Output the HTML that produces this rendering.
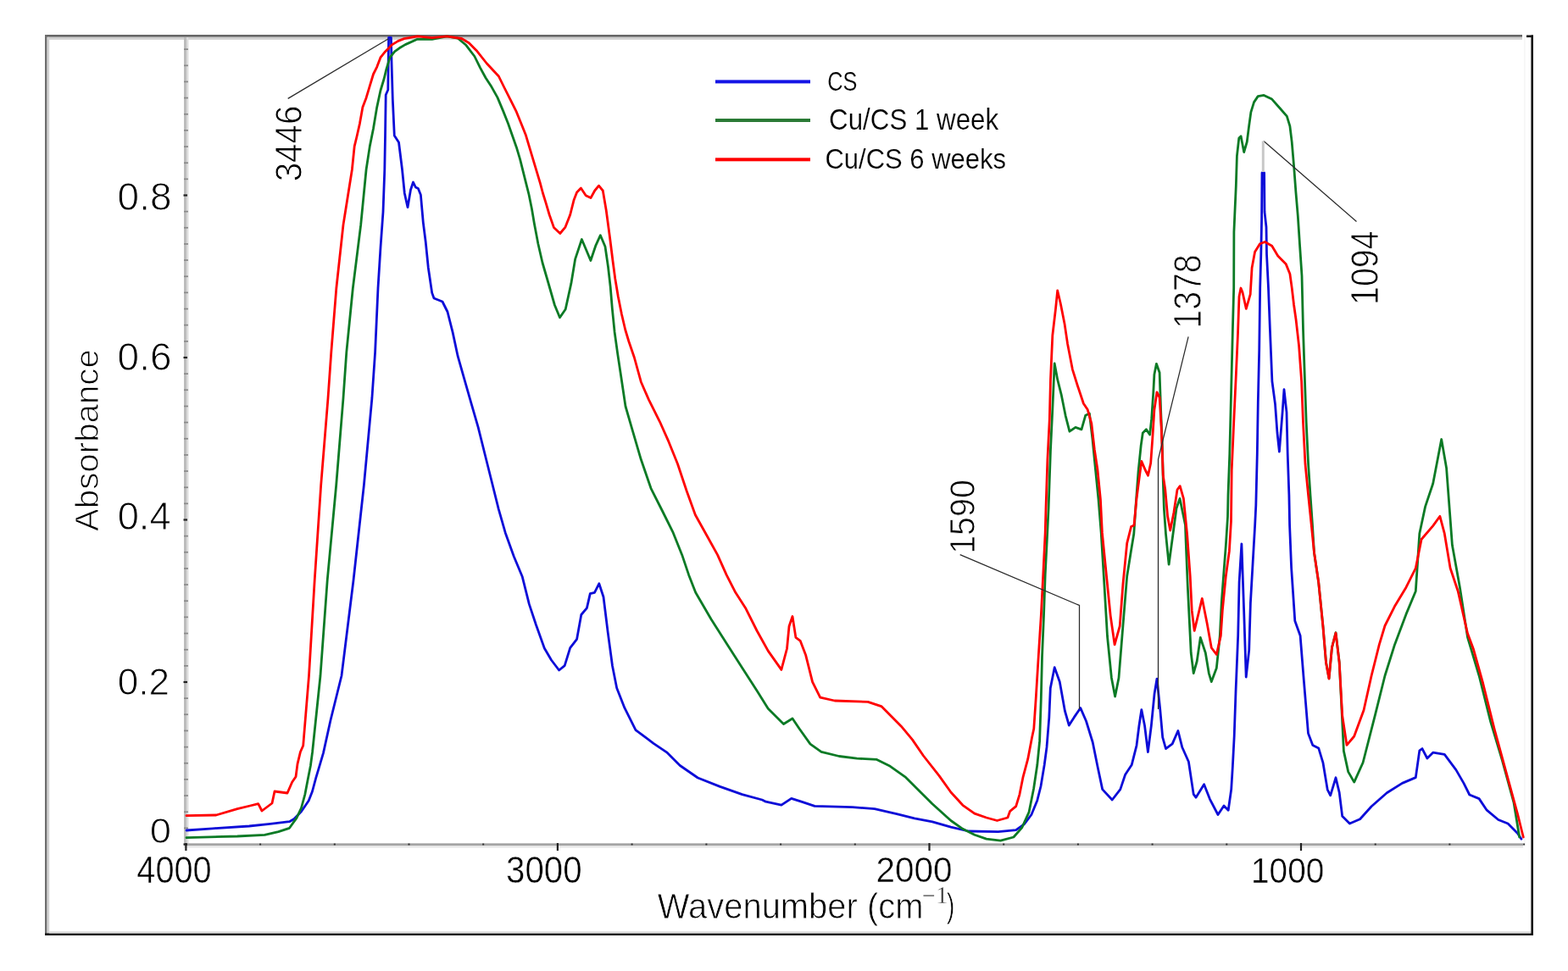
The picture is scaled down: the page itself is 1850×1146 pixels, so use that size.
<!DOCTYPE html>
<html><head><meta charset="utf-8"><title>FTIR spectra</title>
<style>html,body{margin:0;padding:0;background:#fff;}svg{display:block;}</style>
</head><body>
<svg width="1850" height="1146" viewBox="0 0 1850 1146">
<rect width="1850" height="1146" fill="#fff"/>
<rect x="53" y="41" width="1743" height="2.8" fill="#666"/>
<rect x="56" y="43.8" width="1740" height="3" fill="#cfcfcf"/>
<rect x="53" y="41" width="2.6" height="1062" fill="#6e6e6e"/>
<rect x="55.6" y="43.8" width="2.6" height="1058" fill="#d2d2d2"/>
<rect x="1801" y="41.5" width="8" height="2.6" fill="#111"/>
<rect x="1806.4" y="41.5" width="2.6" height="1062.5" fill="#111"/>
<rect x="53" y="1101.4" width="1756" height="2.6" fill="#111"/>
<rect x="58" y="1099" width="1748" height="2.4" fill="#e2e2e2"/>
<rect x="217" y="44" width="3" height="955" fill="#bcbcbc"/>
<rect x="220" y="44" width="2.4" height="955" fill="#dcdcdc"/>
<rect x="217" y="995.3" width="1580" height="2.8" fill="#a4a4a4"/>
<rect x="217" y="998.1" width="1580" height="2.4" fill="#e6e6e6"/>
<rect x="1798.4" y="44" width="1" height="955" fill="#f0f0f0"/>
<rect x="216.5" y="995.4" width="4.5" height="2.2" fill="#222"/>
<rect x="217" y="976.5" width="5" height="1.7" fill="#8a8a8a"/>
<rect x="217" y="957.4" width="5" height="1.7" fill="#8a8a8a"/>
<rect x="217" y="938.2" width="5" height="1.7" fill="#8a8a8a"/>
<rect x="217" y="919.0" width="5" height="1.7" fill="#8a8a8a"/>
<rect x="217" y="899.9" width="5" height="1.7" fill="#8a8a8a"/>
<rect x="217" y="880.8" width="5" height="1.7" fill="#8a8a8a"/>
<rect x="217" y="861.6" width="5" height="1.7" fill="#8a8a8a"/>
<rect x="217" y="842.4" width="5" height="1.7" fill="#8a8a8a"/>
<rect x="217" y="823.3" width="5" height="1.7" fill="#8a8a8a"/>
<rect x="216.5" y="803.9" width="4.5" height="2.2" fill="#222"/>
<rect x="217" y="785.0" width="5" height="1.7" fill="#8a8a8a"/>
<rect x="217" y="765.9" width="5" height="1.7" fill="#8a8a8a"/>
<rect x="217" y="746.7" width="5" height="1.7" fill="#8a8a8a"/>
<rect x="217" y="727.5" width="5" height="1.7" fill="#8a8a8a"/>
<rect x="217" y="708.4" width="5" height="1.7" fill="#8a8a8a"/>
<rect x="217" y="689.2" width="5" height="1.7" fill="#8a8a8a"/>
<rect x="217" y="670.1" width="5" height="1.7" fill="#8a8a8a"/>
<rect x="217" y="650.9" width="5" height="1.7" fill="#8a8a8a"/>
<rect x="217" y="631.8" width="5" height="1.7" fill="#8a8a8a"/>
<rect x="216.5" y="612.4" width="4.5" height="2.2" fill="#222"/>
<rect x="217" y="593.5" width="5" height="1.7" fill="#8a8a8a"/>
<rect x="217" y="574.4" width="5" height="1.7" fill="#8a8a8a"/>
<rect x="217" y="555.2" width="5" height="1.7" fill="#8a8a8a"/>
<rect x="217" y="536.1" width="5" height="1.7" fill="#8a8a8a"/>
<rect x="217" y="516.9" width="5" height="1.7" fill="#8a8a8a"/>
<rect x="217" y="497.7" width="5" height="1.7" fill="#8a8a8a"/>
<rect x="217" y="478.6" width="5" height="1.7" fill="#8a8a8a"/>
<rect x="217" y="459.4" width="5" height="1.7" fill="#8a8a8a"/>
<rect x="217" y="440.3" width="5" height="1.7" fill="#8a8a8a"/>
<rect x="216.5" y="420.9" width="4.5" height="2.2" fill="#222"/>
<rect x="217" y="402.0" width="5" height="1.7" fill="#8a8a8a"/>
<rect x="217" y="382.8" width="5" height="1.7" fill="#8a8a8a"/>
<rect x="217" y="363.7" width="5" height="1.7" fill="#8a8a8a"/>
<rect x="217" y="344.5" width="5" height="1.7" fill="#8a8a8a"/>
<rect x="217" y="325.4" width="5" height="1.7" fill="#8a8a8a"/>
<rect x="217" y="306.2" width="5" height="1.7" fill="#8a8a8a"/>
<rect x="217" y="287.1" width="5" height="1.7" fill="#8a8a8a"/>
<rect x="217" y="267.9" width="5" height="1.7" fill="#8a8a8a"/>
<rect x="217" y="248.8" width="5" height="1.7" fill="#8a8a8a"/>
<rect x="216.5" y="229.4" width="4.5" height="2.2" fill="#222"/>
<rect x="217" y="210.5" width="5" height="1.7" fill="#8a8a8a"/>
<rect x="217" y="191.4" width="5" height="1.7" fill="#8a8a8a"/>
<rect x="217" y="172.2" width="5" height="1.7" fill="#8a8a8a"/>
<rect x="217" y="153.0" width="5" height="1.7" fill="#8a8a8a"/>
<rect x="217" y="133.9" width="5" height="1.7" fill="#8a8a8a"/>
<rect x="217" y="114.7" width="5" height="1.7" fill="#8a8a8a"/>
<rect x="217" y="95.6" width="5" height="1.7" fill="#8a8a8a"/>
<rect x="217" y="76.5" width="5" height="1.7" fill="#8a8a8a"/>
<rect x="217" y="57.3" width="5" height="1.7" fill="#8a8a8a"/>
<rect x="218.3" y="995" width="2.2" height="9" fill="#222"/>
<rect x="306.1" y="995.5" width="2" height="2" fill="#333"/>
<rect x="393.8" y="995.5" width="2" height="2" fill="#333"/>
<rect x="481.5" y="995.5" width="2" height="2" fill="#333"/>
<rect x="569.2" y="995.5" width="2" height="2" fill="#333"/>
<rect x="656.8" y="995" width="2.2" height="9" fill="#222"/>
<rect x="744.6" y="995.5" width="2" height="2" fill="#333"/>
<rect x="832.4" y="995.5" width="2" height="2" fill="#333"/>
<rect x="920.1" y="995.5" width="2" height="2" fill="#333"/>
<rect x="1007.8" y="995.5" width="2" height="2" fill="#333"/>
<rect x="1095.4" y="995" width="2.2" height="9" fill="#222"/>
<rect x="1183.2" y="995.5" width="2" height="2" fill="#333"/>
<rect x="1270.9" y="995.5" width="2" height="2" fill="#333"/>
<rect x="1358.6" y="995.5" width="2" height="2" fill="#333"/>
<rect x="1446.3" y="995.5" width="2" height="2" fill="#333"/>
<rect x="1533.9" y="995" width="2.2" height="9" fill="#222"/>
<rect x="1621.7" y="995.5" width="2" height="2" fill="#333"/>
<rect x="1709.4" y="995.5" width="2" height="2" fill="#333"/>
<rect x="1797.1" y="995.5" width="2" height="2" fill="#333"/>
<text transform="translate(138.61,248.40) scale(1.0439,1.0484)" style="font-family:'Liberation Sans',Arial,sans-serif;font-size:44px" fill="#000" stroke="#fff" stroke-width="0.9">0.8</text>
<text transform="translate(138.61,436.70) scale(1.0439,1.0484)" style="font-family:'Liberation Sans',Arial,sans-serif;font-size:44px" fill="#000" stroke="#fff" stroke-width="0.9">0.6</text>
<text transform="translate(138.64,624.70) scale(1.0293,1.0548)" style="font-family:'Liberation Sans',Arial,sans-serif;font-size:44px" fill="#000" stroke="#fff" stroke-width="0.9">0.4</text>
<text transform="translate(138.70,820.00) scale(1.0018,1.0290)" style="font-family:'Liberation Sans',Arial,sans-serif;font-size:44px" fill="#000" stroke="#fff" stroke-width="0.9">0.2</text>
<text transform="translate(176.74,994.90) scale(1.0800,1.0310)" style="font-family:'Liberation Sans',Arial,sans-serif;font-size:42px" fill="#000" stroke="#fff" stroke-width="0.9">0</text>
<text transform="translate(161.33,1041.60) scale(0.9685,1.0607)" style="font-family:'Liberation Sans',Arial,sans-serif;font-size:41px" fill="#000" stroke="#fff" stroke-width="0.5">4000</text>
<text transform="translate(597.04,1041.60) scale(0.9818,1.0607)" style="font-family:'Liberation Sans',Arial,sans-serif;font-size:41px" fill="#000" stroke="#fff" stroke-width="0.5">3000</text>
<text transform="translate(1033.43,1041.30) scale(0.9864,1.0464)" style="font-family:'Liberation Sans',Arial,sans-serif;font-size:41px" fill="#000" stroke="#fff" stroke-width="0.5">2000</text>
<text transform="translate(1475.96,1041.60) scale(0.9471,1.0571)" style="font-family:'Liberation Sans',Arial,sans-serif;font-size:41px" fill="#000" stroke="#fff" stroke-width="0.5">1000</text>
<text transform="translate(775.80,1083.78) scale(0.9293,1.0025)" style="font-family:'Liberation Sans',Arial,sans-serif;font-size:43px" fill="#000" stroke="#fff" stroke-width="0.8">Wavenumber (cm</text>
<text transform="translate(1088.22,1065.60) scale(1.0833,1.1000)" style="font-family:'Liberation Sans',Arial,sans-serif;font-size:24px" fill="#808080" stroke="#fff" stroke-width="0">−</text>
<text transform="translate(1103.77,1065.80) scale(1.1667,1.1000)" style="font-family:'Liberation Serif','Times New Roman',serif;font-size:26px" fill="#333" stroke="#fff" stroke-width="0.4">1</text>
<text transform="translate(1116.63,1083.06) scale(0.6727,0.9375)" style="font-family:'Liberation Sans',Arial,sans-serif;font-size:43px" fill="#000" stroke="#fff" stroke-width="0.8">)</text>
<text transform="translate(115.80,627.00) rotate(-90) scale(1.0066,0.9767)" style="font-family:'Liberation Sans',Arial,sans-serif;font-size:40px" fill="#000" stroke="#fff" stroke-width="1.0">Absorbance</text>
<text transform="translate(355.80,214.33) rotate(-90) scale(0.9160,1.0194)" style="font-family:'Liberation Sans',Arial,sans-serif;font-size:44px" fill="#000" stroke="#fff" stroke-width="0.9">3446</text>
<text transform="translate(1149.60,653.79) rotate(-90) scale(0.8957,0.9806)" style="font-family:'Liberation Sans',Arial,sans-serif;font-size:44px" fill="#000" stroke="#fff" stroke-width="0.9">1590</text>
<text transform="translate(1416.80,387.68) rotate(-90) scale(0.8925,1.0452)" style="font-family:'Liberation Sans',Arial,sans-serif;font-size:44px" fill="#000" stroke="#fff" stroke-width="0.9">1378</text>
<text transform="translate(1626.40,359.98) rotate(-90) scale(0.8947,1.0387)" style="font-family:'Liberation Sans',Arial,sans-serif;font-size:44px" fill="#000" stroke="#fff" stroke-width="0.9">1094</text>
<text transform="translate(976.16,106.60) scale(0.8175,0.9818)" style="font-family:'Liberation Sans',Arial,sans-serif;font-size:31px" fill="#000" stroke="#fff" stroke-width="0.2">CS</text>
<text transform="translate(978.08,152.60) scale(1.0102,1.1130)" style="font-family:'Liberation Sans',Arial,sans-serif;font-size:31px" fill="#000" stroke="#fff" stroke-width="0.2">Cu/CS 1 week</text>
<text transform="translate(973.40,199.00) scale(1.0000,1.0739)" style="font-family:'Liberation Sans',Arial,sans-serif;font-size:31px" fill="#000" stroke="#fff" stroke-width="0.2">Cu/CS 6 weeks</text>
<path d="M220.0,980.0 L250.7,977.8 L294.0,975.0 L318.8,972.4 L341.5,969.7 L347.0,966.5 L355.5,957.8 L364.2,945.0 L368.5,934.0 L372.8,917.8 L377.0,903.8 L381.5,888.6 L390.0,850.0 L403.0,797.5 L417.0,685.0 L429.4,572.5 L438.9,470.0 L442.6,415.6 L446.0,340.0 L449.0,292.0 L452.0,250.0 L453.8,200.0 L454.5,160.0 L455.2,112.0 L457.8,106.0 L458.2,73.0 L458.6,44.5 L461.4,44.5 L462.0,73.0 L463.3,117.0 L465.3,160.0 L470.5,168.0 L474.5,200.0 L477.3,228.0 L481.0,244.7 L484.5,224.0 L487.5,215.0 L490.4,221.0 L493.4,222.5 L496.4,230.0 L499.3,262.6 L502.3,286.3 L505.3,316.0 L509.7,345.6 L512.0,352.0 L522.0,356.0 L528.0,368.0 L534.1,392.1 L540.1,420.2 L548.1,448.3 L556.1,476.3 L564.2,504.4 L572.2,536.5 L580.2,568.5 L588.2,600.6 L596.2,628.7 L606.3,656.8 L616.3,680.8 L624.3,712.9 L632.3,737.0 L642.3,765.0 L650.5,779.0 L659.6,791.0 L666.2,785.7 L672.7,764.7 L680.6,754.3 L685.8,725.5 L692.4,717.6 L696.3,700.6 L701.5,699.3 L706.8,688.8 L712.0,704.5 L717.2,746.4 L722.5,785.7 L727.7,811.9 L736.9,835.4 L750.0,861.6 L771.0,877.3 L786.6,887.8 L802.3,903.5 L823.3,918.0 L849.5,928.4 L875.7,937.6 L899.2,944.0 L903.6,946.2 L921.9,950.1 L933.7,942.3 L945.5,946.2 L961.2,951.4 L1005.7,952.7 L1031.9,954.6 L1058.0,960.6 L1079.0,965.8 L1100.0,969.8 L1121.9,976.2 L1142.8,981.0 L1177.8,981.7 L1198.7,979.6 L1208.5,972.7 L1216.9,961.5 L1223.8,944.7 L1228.0,928.0 L1232.2,902.8 L1235.0,881.9 L1237.8,847.0 L1239.3,812.2 L1244.2,787.7 L1250.3,804.8 L1256.4,839.0 L1261.3,856.1 L1267.4,846.4 L1274.8,835.6 L1281.5,851.0 L1289.2,876.0 L1295.0,904.7 L1300.7,931.6 L1312.2,944.0 L1321.8,931.6 L1327.6,914.3 L1335.2,902.8 L1341.0,879.8 L1343.9,856.8 L1346.8,837.6 L1350.6,856.8 L1354.4,887.5 L1358.3,856.8 L1362.1,818.4 L1365.0,801.1 L1368.8,837.6 L1371.7,870.2 L1375.5,883.6 L1383.2,877.9 L1389.9,862.5 L1394.7,881.7 L1402.4,899.0 L1408.2,937.4 L1411.0,941.2 L1420.6,925.8 L1427.4,943.1 L1437.0,961.5 L1444.0,951.0 L1449.2,956.3 L1452.7,931.8 L1454.4,903.9 L1456.2,869.0 L1458.0,816.6 L1460.7,750.2 L1462.1,687.3 L1464.9,641.9 L1467.7,722.2 L1470.2,799.0 L1473.7,767.7 L1475.4,711.8 L1478.2,662.9 L1480.6,621.0 L1481.8,596.6 L1483.3,535.5 L1484.3,474.4 L1485.7,413.3 L1486.7,340.0 L1487.8,300.0 L1488.6,258.0 L1489.0,204.0 L1491.6,204.0 L1492.0,250.0 L1494.0,268.0 L1494.5,300.0 L1496.5,340.0 L1498.4,388.9 L1500.9,450.0 L1504.5,476.9 L1507.0,511.0 L1509.4,533.0 L1513.1,486.6 L1515.0,459.7 L1518.0,486.6 L1519.2,535.5 L1520.9,584.4 L1521.6,620.0 L1523.6,669.9 L1527.8,732.7 L1534.1,750.2 L1538.3,802.6 L1543.5,865.5 L1548.8,879.4 L1555.7,882.9 L1561.0,900.4 L1566.2,931.8 L1569.7,938.8 L1576.0,917.8 L1580.2,935.3 L1583.7,963.3 L1592.4,972.0 L1604.6,966.7 L1618.1,951.7 L1636.3,935.8 L1654.4,924.4 L1670.3,917.6 L1674.8,885.9 L1678.0,883.6 L1683.9,895.0 L1690.7,888.2 L1704.3,890.4 L1717.9,908.6 L1727.0,924.4 L1733.8,938.0 L1745.1,942.6 L1754.2,956.2 L1767.8,967.5 L1779.1,972.0 L1790.5,983.4 L1795.0,990.2" fill="none" stroke="#0c0cd8" stroke-width="2.8" stroke-linejoin="round" stroke-linecap="round"/>
<path d="M220.0,988.6 L280.0,987.0 L312.3,985.4 L328.5,981.6 L341.5,977.3 L350.0,965.4 L355.5,953.5 L359.9,937.3 L363.0,921.0 L366.4,903.8 L368.6,887.5 L378.0,797.5 L386.2,685.0 L396.7,572.5 L405.0,470.0 L408.8,415.6 L416.3,340.5 L425.7,265.4 L432.1,200.0 L436.3,172.6 L440.5,151.7 L444.7,126.6 L448.9,107.0 L453.1,93.0 L455.8,81.9 L460.0,67.9 L465.6,60.9 L471.2,56.8 L478.2,52.6 L492.4,46.3 L509.8,46.3 L527.3,42.9 L540.0,45.0 L549.9,53.3 L559.9,66.5 L566.5,79.8 L573.1,92.0 L580.0,102.6 L587.0,115.1 L594.0,131.9 L599.5,145.8 L604.4,159.8 L609.3,173.7 L613.5,187.7 L617.0,201.6 L620.5,215.6 L624.0,229.5 L627.4,246.3 L630.4,263.9 L634.9,287.7 L640.0,310.0 L646.1,331.0 L654.4,360.0 L660.5,374.7 L667.2,365.0 L673.9,334.4 L678.7,305.6 L686.4,282.5 L692.1,296.0 L696.9,307.5 L702.7,290.2 L708.4,277.7 L714.0,291.0 L717.5,315.0 L720.2,338.6 L722.3,363.8 L725.1,391.7 L728.6,416.9 L732.1,440.0 L738.0,479.5 L747.1,510.9 L756.3,542.3 L768.0,576.3 L781.2,602.5 L794.2,628.7 L804.7,654.9 L812.6,678.4 L820.7,699.3 L839.0,730.7 L857.3,759.5 L875.7,788.3 L893.1,815.2 L906.2,836.2 L924.5,854.5 L935.0,848.0 L942.9,859.8 L956.0,878.1 L969.0,887.3 L990.0,892.5 L1011.0,895.1 L1034.5,896.4 L1050.2,904.3 L1068.6,917.4 L1086.9,935.7 L1100.0,948.8 L1121.9,968.5 L1135.9,978.3 L1149.8,985.2 L1163.8,990.1 L1180.5,992.2 L1195.9,988.0 L1205.7,976.9 L1214.0,958.7 L1219.6,930.8 L1223.8,902.8 L1226.6,874.9 L1228.3,824.4 L1229.5,775.5 L1231.5,726.6 L1233.2,677.8 L1235.7,628.9 L1237.1,600.0 L1239.5,530.4 L1241.8,483.2 L1244.2,429.0 L1247.7,447.9 L1252.4,466.7 L1257.1,490.3 L1261.9,509.2 L1268.9,504.4 L1276.0,506.8 L1280.7,490.3 L1285.4,488.0 L1289.0,518.6 L1292.5,554.0 L1296.0,589.3 L1299.2,628.9 L1302.9,690.0 L1306.5,751.0 L1311.4,800.0 L1315.6,822.0 L1320.0,800.0 L1324.9,738.8 L1329.7,680.0 L1334.5,650.0 L1337.8,630.0 L1339.9,598.9 L1343.0,557.0 L1346.2,525.6 L1348.3,511.0 L1352.4,506.8 L1356.6,513.0 L1358.7,494.2 L1360.8,462.8 L1361.9,441.9 L1364.4,429.3 L1368.1,439.8 L1369.6,483.7 L1371.3,525.6 L1372.3,567.5 L1373.4,601.0 L1375.5,630.3 L1379.1,666.2 L1384.0,630.0 L1388.0,600.0 L1392.0,588.4 L1398.5,619.8 L1399.2,640.0 L1401.2,690.3 L1403.2,730.4 L1405.2,770.5 L1408.2,794.6 L1412.2,780.5 L1416.3,752.5 L1422.3,770.5 L1426.3,794.6 L1429.3,804.6 L1435.3,788.6 L1439.3,750.5 L1441.3,710.3 L1444.3,670.2 L1446.3,644.1 L1448.5,610.0 L1449.0,584.4 L1450.8,535.5 L1452.0,486.6 L1453.2,437.8 L1454.4,388.9 L1455.7,340.0 L1455.9,273.7 L1458.3,219.5 L1459.4,184.2 L1461.8,163.0 L1464.1,160.7 L1467.7,179.5 L1471.2,167.7 L1473.6,148.9 L1475.9,132.4 L1479.5,120.6 L1484.2,113.6 L1491.2,112.4 L1500.7,117.1 L1510.1,127.7 L1518.3,137.1 L1521.9,148.9 L1524.2,167.7 L1526.6,196.0 L1528.9,226.6 L1531.3,254.9 L1533.6,290.2 L1536.0,325.5 L1537.5,388.9 L1539.5,450.0 L1541.2,498.8 L1543.6,547.7 L1546.0,584.4 L1548.5,620.0 L1550.5,652.4 L1555.7,687.3 L1561.0,739.7 L1564.5,781.6 L1568.0,800.8 L1571.5,764.2 L1576.0,746.7 L1580.2,781.6 L1583.0,837.5 L1585.4,886.4 L1590.7,910.9 L1597.7,923.1 L1608.1,900.0 L1622.7,842.8 L1634.0,797.5 L1645.4,761.2 L1659.0,724.9 L1670.3,697.7 L1674.8,629.7 L1681.6,597.9 L1690.7,570.7 L1700.7,518.5 L1706.6,552.6 L1713.4,643.3 L1722.4,693.2 L1731.5,752.1 L1745.1,797.5 L1758.7,851.9 L1772.3,897.2 L1786.0,947.1 L1792.7,987.9" fill="none" stroke="#0b7a25" stroke-width="2.8" stroke-linejoin="round" stroke-linecap="round"/>
<path d="M220.0,962.7 L255.0,962.0 L280.0,954.6 L295.0,951.0 L304.7,948.6 L309.0,957.0 L321.0,948.0 L324.0,934.0 L339.0,936.0 L344.7,923.0 L349.0,916.8 L351.0,901.6 L354.4,887.5 L357.7,880.0 L364.5,797.5 L371.2,685.0 L378.7,572.5 L387.0,470.0 L390.8,415.6 L396.8,340.5 L405.0,265.4 L415.4,200.0 L418.2,172.6 L420.9,161.5 L424.4,146.1 L427.9,126.6 L432.1,115.4 L436.3,101.4 L440.5,87.5 L444.7,79.1 L448.9,67.9 L454.5,60.9 L462.8,52.6 L469.8,48.4 L476.8,45.6 L492.4,42.9 L509.8,44.6 L527.3,42.9 L544.7,45.5 L553.4,50.7 L562.0,59.4 L574.4,75.0 L588.4,90.0 L595.3,104.0 L602.3,117.9 L609.3,131.9 L614.9,145.8 L620.5,159.8 L624.6,173.7 L628.8,187.7 L633.0,201.6 L637.2,215.6 L640.5,228.0 L643.8,238.7 L648.2,253.5 L653.4,268.4 L660.8,275.5 L666.8,268.4 L672.7,253.5 L677.2,235.7 L680.6,226.9 L685.4,222.0 L691.2,230.7 L697.0,233.6 L701.7,225.0 L706.5,219.2 L711.3,225.0 L715.2,248.0 L719.5,280.0 L723.0,308.0 L725.8,329.0 L729.3,350.0 L733.5,371.0 L737.7,389.0 L741.9,403.0 L748.4,422.0 L756.3,450.7 L765.4,471.6 L778.5,497.8 L789.0,521.4 L799.5,547.5 L810.0,579.0 L820.4,607.7 L833.5,631.3 L846.6,654.9 L857.1,678.4 L867.8,699.3 L880.0,718.3 L893.1,744.5 L906.2,768.1 L921.9,790.4 L928.5,765.5 L931.0,739.3 L935.0,727.5 L938.9,752.4 L944.2,756.3 L950.7,773.3 L958.6,804.8 L967.7,823.1 L984.8,827.0 L1024.0,828.3 L1039.8,833.6 L1063.3,857.2 L1076.4,872.9 L1089.5,892.0 L1107.9,915.4 L1121.9,935.0 L1135.9,950.3 L1149.8,960.1 L1163.8,965.0 L1176.4,968.5 L1188.9,965.0 L1191.7,957.3 L1198.7,951.7 L1202.9,937.8 L1207.1,916.8 L1212.7,895.9 L1217.5,870.7 L1219.8,860.0 L1222.2,824.4 L1225.2,775.5 L1228.3,726.6 L1230.8,677.8 L1233.2,628.9 L1234.0,600.0 L1235.9,542.2 L1238.3,495.0 L1239.5,447.9 L1241.8,396.0 L1245.4,365.4 L1247.7,343.0 L1251.3,358.3 L1256.0,381.9 L1259.5,405.4 L1265.4,436.1 L1271.3,455.0 L1278.4,476.2 L1283.1,483.2 L1287.8,499.7 L1291.3,530.4 L1294.9,554.0 L1298.4,589.3 L1300.4,628.9 L1305.3,677.8 L1310.2,726.6 L1315.1,760.8 L1321.2,738.8 L1324.9,690.0 L1329.7,641.1 L1334.6,621.5 L1338.0,620.0 L1341.0,588.4 L1344.0,565.4 L1346.8,544.4 L1351.4,555.0 L1354.5,561.2 L1357.7,546.5 L1359.8,517.2 L1361.9,483.7 L1365.0,462.8 L1368.1,469.0 L1370.2,504.7 L1372.3,561.2 L1374.8,578.0 L1377.6,609.3 L1380.7,626.0 L1384.9,605.0 L1389.0,578.0 L1392.2,573.7 L1396.4,588.4 L1400.6,630.3 L1404.2,680.0 L1406.2,720.4 L1409.2,744.4 L1418.3,706.3 L1424.3,736.4 L1429.3,764.5 L1435.3,772.5 L1440.3,750.5 L1442.3,720.4 L1446.3,680.2 L1450.4,650.2 L1452.5,615.0 L1453.2,555.0 L1455.7,498.8 L1458.1,447.5 L1460.5,393.8 L1462.0,350.0 L1464.0,340.0 L1466.0,345.0 L1470.3,364.4 L1475.2,347.3 L1477.1,316.0 L1480.6,297.3 L1486.5,287.8 L1492.4,285.5 L1500.7,290.2 L1507.7,302.0 L1517.1,311.4 L1521.9,323.2 L1524.2,339.6 L1526.6,360.0 L1529.0,376.7 L1532.6,408.4 L1535.6,450.0 L1537.5,498.8 L1540.0,547.7 L1543.6,584.4 L1547.3,620.0 L1550.5,652.0 L1555.7,687.0 L1561.0,740.0 L1564.5,782.0 L1568.0,801.0 L1571.5,764.0 L1576.0,747.0 L1580.2,782.0 L1583.7,844.5 L1589.0,879.4 L1597.7,869.0 L1609.0,838.3 L1618.1,797.5 L1627.2,761.2 L1634.0,738.5 L1645.4,715.8 L1659.0,693.2 L1670.3,670.5 L1677.1,636.5 L1690.7,620.6 L1698.9,609.3 L1704.3,629.7 L1711.1,670.5 L1720.2,697.7 L1731.5,747.6 L1738.3,765.7 L1749.7,806.5 L1763.3,861.0 L1776.9,910.8 L1790.5,960.7 L1797.3,988.0" fill="none" stroke="#ff0000" stroke-width="2.8" stroke-linejoin="round" stroke-linecap="round"/>
<path d="M339.7,116.4 L458.3,45.7" stroke="#2a2a2a" stroke-width="1.25" fill="none"/>
<path d="M1132.7,654.7 L1273.5,714.5 L1273.5,837" stroke="#2a2a2a" stroke-width="1.25" fill="none"/>
<path d="M1402.1,397.3 L1366.5,542 L1366.5,837" stroke="#2a2a2a" stroke-width="1.25" fill="none"/>
<path d="M1600.5,261.5 L1491,166.5" stroke="#2a2a2a" stroke-width="1.25" fill="none"/>
<path d="M1490.3,166.5 L1490.3,203" stroke="#c8c8c8" stroke-width="3"/>
<rect x="844" y="94.4" width="112" height="4" fill="#1414e6"/>
<rect x="844" y="140.0" width="112" height="4" fill="#2a7a35"/>
<rect x="844" y="186.3" width="112" height="4" fill="#ff0000"/>
</svg>
</body></html>
